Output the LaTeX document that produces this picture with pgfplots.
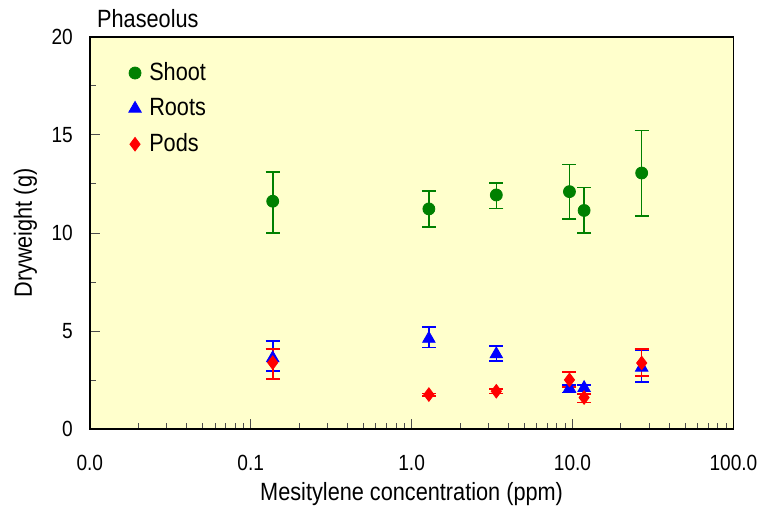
\documentclass[border=0pt]{standalone}
\usepackage{fontspec}
\setmainfont{Liberation Sans}[FakeStretch=0.87]
\usepackage{pgfplots}
\pgfplotsset{compat=1.18}
\definecolor{shootc}{HTML}{008000}
\definecolor{rootc}{HTML}{0000FF}
\definecolor{podc}{HTML}{FF0000}
\definecolor{bgc}{HTML}{FFFFCC}

\begin{document}
\begin{tikzpicture}
  \begin{semilogxaxis}[
      scale only axis,
      width=322.5pt, height=196.5pt,
      xmin=0.01, xmax=100,
      ymin=0, ymax=20,
      xtick={0.01,0.1,1,10,100},
      xticklabels={0.0,0.1,1.0,10.0,100.0},
      ytick={0,5,10,15,20},
      minor y tick num=1,
      tick align=inside,
      xtick pos=left, ytick pos=left,
      major tick length=5pt,
      minor tick length=3pt,
      axis background/.style={fill=bgc},
      axis line style={black, line width=0.8pt},
      tick style={black!70, line width=0.5pt},
      /pgf/number format/assume math mode=true,
      tick label style={font=\fontsize{11}{13}\selectfont},
      xticklabel style={yshift=-9.5pt},
      yticklabel style={xshift=-5pt},
      xlabel={Mesitylene concentration (ppm)},
      ylabel={Dryweight (g)},
      every axis x label/.style={at={(axis description cs:0.5,-0.165)}, anchor=center,
        font=\fontsize{12.5}{15}\selectfont},
      every axis y label/.style={at={(axis description cs:-0.1,0.5)}, rotate=90, anchor=center,
        font=\fontsize{12.5}{15}\selectfont},
      legend style={at={(axis description cs:0.06,0.946)}, anchor=north west,
        draw=none, fill=none, font=\fontsize{12.5}{15}\selectfont,
        row sep=3.5pt, column sep=2pt, inner sep=0pt},
      legend cell align=left,
      error bars/y dir=both,
      error bars/y explicit,
      clip=false,
    ]
    % Shoot
    \addplot[only marks, mark=*, mark size=3pt, color=shootc,
      error bars/error bar style={line width=0.8pt},
      error bars/error mark options={rotate=90, mark size=3.5pt, line width=0.8pt}]
      coordinates {
        (0.137,11.62) += (0,1.48) -= (0,1.63)
        (1.28,11.23)  += (0,0.91) -= (0,0.92)
        (3.36,11.94)  += (0,0.61) -= (0,0.68)
        (9.57,12.11)  += (0,1.39) -= (0,1.41)
        (11.8,11.15)  += (0,1.17) -= (0,1.16)
        (26.9,13.06)  += (0,2.16) -= (0,2.20)
      };
    \addlegendentry{Shoot}
    % Roots
    \addplot[only marks, mark=triangle*, mark size=3.6pt, color=rootc,
      error bars/error bar style={line width=0.8pt},
      error bars/error mark options={rotate=90, mark size=3.5pt, line width=0.8pt}]
      coordinates {
        (0.137,3.62) += (0,0.87) -= (0,0.65)
        (1.28,4.61)  += (0,0.60) -= (0,0.44)
        (3.36,3.82)  += (0,0.42) -= (0,0.36)
        (9.57,2.07)  += (0,0.19) -= (0,0.20)
        (11.8,2.10)  += (0,0.16) -= (0,0.32)
        (26.9,3.14)  += (0,0.88) -= (0,0.73)
      };
    \addlegendentry{Roots}
    % Pods
    \addplot[only marks, mark=diamond*, mark size=3.4pt, color=podc,
      error bars/error bar style={line width=0.8pt},
      error bars/error mark options={rotate=90, mark size=3.5pt, line width=0.8pt}]
      coordinates {
        (0.137,3.39) += (0,0.70) -= (0,0.83)
        (1.28,1.76)  += (0,0.06) -= (0,0.06)
        (3.36,1.93)  += (0,0.12) -= (0,0.12)
        (9.57,2.51)  += (0,0.39) -= (0,0.37)
        (11.8,1.61)  += (0,0.17) -= (0,0.25)
        (26.9,3.37)  += (0,0.70) -= (0,0.66)
      };
    \addlegendentry{Pods}
    \node[anchor=south west, font=\fontsize{12.5}{15}\selectfont, inner sep=0pt]
      at (rel axis cs:0,1) [xshift=3.5pt, yshift=4.5pt] {Phaseolus};
  \end{semilogxaxis}
  % page margins as in the reference
  \path (current axis.south west) ++(-45pt,-42.5pt) rectangle ++(382pt,257.5pt);
\end{tikzpicture}
\end{document}
